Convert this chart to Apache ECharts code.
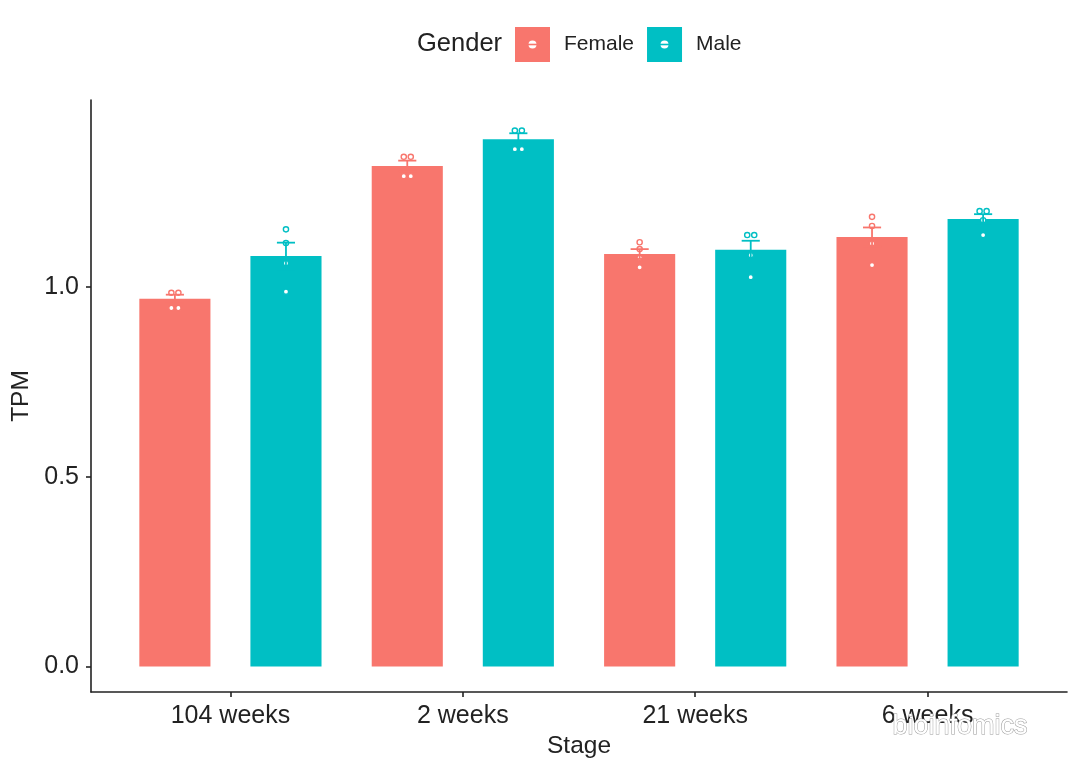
<!DOCTYPE html>
<html>
<head>
<meta charset="utf-8">
<script src="https://cdn.jsdelivr.net/npm/echarts@6/dist/echarts.min.js"></script>
<style>html,body{margin:0;padding:0;background:#fff}#chart{width:1080px;height:772px}</style>
</head>
<body>
<div id="chart"></div>
<script>
// ---- data ----
const stages = ['104 weeks', '2 weeks', '21 weeks', '6 weeks'];
const genders = ['Female', 'Male'];
const femaleMean = [0.968, 1.318, 1.086, 1.131];
const maleMean   = [1.081, 1.388, 1.097, 1.178];
const femaleUpper = [0.979, 1.332, 1.099, 1.156];
const maleUpper   = [1.116, 1.404, 1.121, 1.191];
const femalePoints = [
  [0.984, 0.984, 0.944, 0.944],
  [1.342, 1.342, 1.291, 1.291],
  [1.117, 1.099, 1.076, 1.051],
  [1.184, 1.160, 1.114, 1.057]
];
const malePoints = [
  [1.151, 1.115, 1.062, 0.987],
  [1.411, 1.411, 1.362, 1.362],
  [1.136, 1.136, 1.083, 1.025],
  [1.199, 1.199, 1.175, 1.136]
];
const yTicks = [0, 0.5, 1.0];
const colors = { Female: '#F8766D', Male: '#00BFC4' };

// ---- layout constants ----
const BW = 0.306;      // bar width in category units
const OFF = 0.239;     // dodge offset
const CAP = 0.039;     // half cap width
const FONT = 'Liberation Sans, Arial, sans-serif';

function barData(means, uppers) {
  return means.map((m, i) => [i, m, uppers[i]]);
}
function pointData(groups) {
  const out = [];
  groups.forEach((vals, i) => {
    vals.forEach((v, k) => {
      const same = vals.filter(u => u === v);
      const rank = vals.slice(0, k).filter(u => u === v).length;
      out.push([i, v, rank - (same.length - 1) / 2]);
    });
  });
  return out;
}

function barRender(offset, color) {
  return function (params, api) {
    const x = api.value(0), y = api.value(1);
    const p0 = api.coord([x + offset - BW / 2, 0]);
    const p1 = api.coord([x + offset + BW / 2, y]);
    return { type: 'rect', shape: { x: p0[0], y: p1[1], width: p1[0] - p0[0], height: p0[1] - p1[1] }, style: { fill: color } };
  };
}
function errRender(offset, color) {
  return function (params, api) {
    const x = api.value(0) + offset, m = api.value(1), up = api.value(2);
    const lo = m - (up - m);
    const a = api.coord([x, up]), b = api.coord([x, lo]);
    const l = api.coord([x - CAP, up])[0], r = api.coord([x + CAP, up])[0];
    const st = { stroke: color, lineWidth: 1.8 };
    return { type: 'group', children: [
      { type: 'line', shape: { x1: a[0], y1: a[1], x2: b[0], y2: b[1] }, style: st },
      { type: 'line', shape: { x1: l, y1: a[1], x2: r, y2: a[1] }, style: st },
      { type: 'line', shape: { x1: l, y1: b[1], x2: r, y2: b[1] }, style: st }
    ] };
  };
}
function ptRender(offset, color) {
  return function (params, api) {
    const c = api.coord([api.value(0) + offset, api.value(1)]);
    return { type: 'circle', shape: { cx: c[0] + api.value(2) * 7, cy: c[1], r: 2.6 }, style: { fill: '#fff', stroke: color, lineWidth: 1.4 } };
  };
}

const chart = echarts.init(document.getElementById('chart'));
const axisCol = '#222';
chart.setOption({
  animation: false,
  backgroundColor: '#fff',
  grid: { left: 91, right: 13, top: 100, bottom: 80 },
  legend: {
    data: genders, left: 515, top: 27, icon: 'rect', itemWidth: 35, itemHeight: 35, itemGap: 13, padding: 0,
    textStyle: { fontSize: 21, fontFamily: FONT, color: '#222', padding: [5, 0, 0, 9] },
    selectedMode: false
  },
  xAxis: {
    type: 'value', min: -0.6, max: 3.6,
    name: 'Stage', nameLocation: 'middle', nameGap: 41,
    nameTextStyle: { fontSize: 24.5, fontFamily: FONT, color: '#222' },
    axisLine: { show: true, onZero: false, lineStyle: { color: axisCol, width: 1.6 } },
    axisTick: { show: true, length: 5, lineStyle: { color: axisCol, width: 1.6 }, customValues: [0, 1, 2, 3] },
    axisLabel: { customValues: [0, 1, 2, 3], formatter: v => stages[Math.round(v)] || '', fontSize: 25, fontFamily: FONT, color: '#222', margin: 12 },
    splitLine: { show: false }
  },
  yAxis: {
    type: 'value', min: -0.0671, max: 1.4916,
    name: 'TPM', nameLocation: 'middle', nameGap: 51,
    nameTextStyle: { fontSize: 24.5, fontFamily: FONT, color: '#222' },
    axisLine: { show: true, onZero: false, lineStyle: { color: axisCol, width: 1.6 } },
    axisTick: { show: true, length: 5, lineStyle: { color: axisCol, width: 1.6 }, customValues: yTicks },
    axisLabel: { customValues: yTicks, formatter: v => v.toFixed(1), fontSize: 25, fontFamily: FONT, color: '#222', margin: 12 },
    splitLine: { show: false }
  },
  graphic: [
    { type: 'text', left: 417, top: 31, z: 100, style: { text: 'Gender', fontSize: 25.5, fontFamily: FONT, fill: '#222' } },
    { type: 'circle', z: 100, shape: { cx: 532.5, cy: 44.5, r: 4 }, style: { fill: '#fff' } },
    { type: 'line', z: 101, shape: { x1: 527, y1: 44.5, x2: 538, y2: 44.5 }, style: { stroke: colors.Female, lineWidth: 1.6 } },
    { type: 'circle', z: 100, shape: { cx: 664.5, cy: 44.5, r: 4 }, style: { fill: '#fff' } },
    { type: 'line', z: 101, shape: { x1: 659, y1: 44.5, x2: 670, y2: 44.5 }, style: { stroke: colors.Male, lineWidth: 1.6 } },
    { type: 'text', left: 892, top: 713, z: 100, style: { text: 'bioinfomics', fontSize: 27, fontFamily: FONT, fill: '#fff', stroke: '#9a9a9a', lineWidth: 1 } }
  ],
  series: [
    { name: 'Female', type: 'custom', data: barData(femaleMean, femaleUpper), renderItem: barRender(-OFF, colors.Female), itemStyle: { color: colors.Female }, encode: { x: 0, y: 1 }, z: 1 },
    { name: 'Male', type: 'custom', data: barData(maleMean, maleUpper), renderItem: barRender(OFF, colors.Male), itemStyle: { color: colors.Male }, encode: { x: 0, y: 1 }, z: 1 },
    { name: 'Female', type: 'custom', data: pointData(femalePoints), renderItem: ptRender(-OFF, colors.Female), itemStyle: { color: colors.Female }, encode: { x: 0, y: 1 }, z: 2 },
    { name: 'Male', type: 'custom', data: pointData(malePoints), renderItem: ptRender(OFF, colors.Male), itemStyle: { color: colors.Male }, encode: { x: 0, y: 1 }, z: 2 },
    { name: 'Female', type: 'custom', data: barData(femaleMean, femaleUpper), renderItem: errRender(-OFF, colors.Female), itemStyle: { color: colors.Female }, encode: { x: 0, y: [1, 2] }, z: 3 },
    { name: 'Male', type: 'custom', data: barData(maleMean, maleUpper), renderItem: errRender(OFF, colors.Male), itemStyle: { color: colors.Male }, encode: { x: 0, y: [1, 2] }, z: 3 }
  ]
});
</script>
</body>
</html>
